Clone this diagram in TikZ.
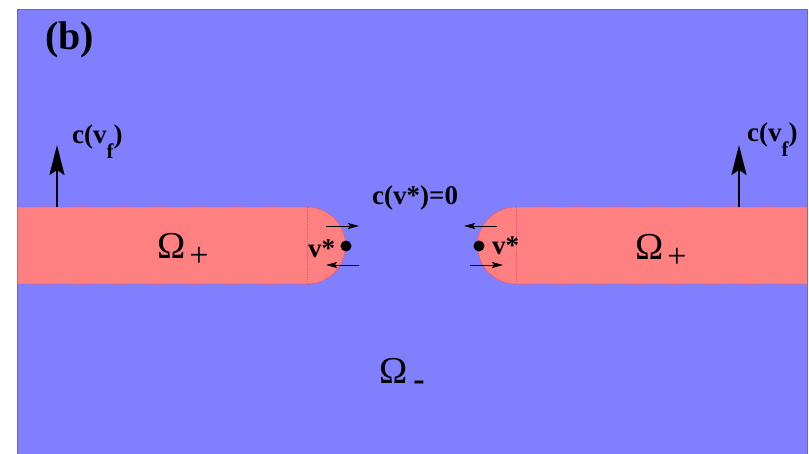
\documentclass[tikz,border=0pt]{standalone}
\usepackage{fontspec}
\setmainfont{Liberation Serif}
\usetikzlibrary{arrows.meta}
\definecolor{bgblue}{RGB}{128,128,255}
\definecolor{bgedge}{RGB}{100,100,235}
\definecolor{pinkfill}{RGB}{255,128,128}
\definecolor{pinkedge}{RGB}{235,80,100}
\begin{document}
\begin{tikzpicture}[x=1pt,y=-1pt,
  lbl/.style={inner sep=0pt, anchor=base west, font=\bfseries\fontsize{27}{30}\selectfont},
  omg/.style={inner sep=0pt, anchor=base west, font=\fontsize{38}{40}\selectfont},
  bigarrow/.style={line width=2.5pt, -{Stealth[length=30pt,width=15pt,inset=5pt]}},
  smallarrow/.style={line width=0.9pt, -{Stealth[length=11pt,width=6pt,inset=2pt]}},
  outline/.style={draw=pinkedge, densely dotted, line width=0.9pt},
  dot/.style={circle, fill=black, inner sep=0pt, minimum size=11pt}]
\fill[white] (0,0) rectangle (809,453);
\useasboundingbox (0,0) rectangle (809,453);
% background region
\filldraw[fill=bgblue, draw=bgedge, line width=1pt] (17.5,9.5) rectangle (807,460);
% left strip
\fill[pinkfill] (17.5,207) -- (307,207) arc[start angle=90, end angle=-90, radius=38.5pt] -- (17.5,284) -- cycle;
\draw[outline] (17.5,207) -- (307,207) arc[start angle=90, end angle=-90, radius=38.5pt] -- (17.5,284);
\draw[outline] (307,207) -- (307,284);
% right strip
\fill[pinkfill] (807,207) -- (516,207) arc[start angle=90, end angle=270, radius=38.5pt] -- (807,284) -- cycle;
\draw[outline] (807,207) -- (516,207) arc[start angle=90, end angle=270, radius=38.5pt] -- (807,284);
\draw[outline] (516,207) -- (516,284);
% big arrows
\coordinate (lbase) at (57,207);
\coordinate (ltip) at (57,145);
\draw[bigarrow] (lbase) -- (ltip);
\coordinate (rbase) at (739,207);
\coordinate (rtip) at (739,145);
\draw[bigarrow] (rbase) -- (rtip);
% labels
\node[font=\bfseries\fontsize{40}{42}\selectfont, inner sep=0pt, anchor=base west] (blabel) at (45,49) {(b)};
\node[lbl] (lcvf) at (72,143) {c(v\raisebox{-15pt}{\fontsize{21}{21}\selectfont f})};
\node[lbl] (rcvf) at (747,141) {c(v\raisebox{-15pt}{\fontsize{21}{21}\selectfont f})};
\node[lbl] (czero) at (372,204) {c(v*)=0};
\node[lbl] (lvs) at (308,257) {v*};
\node[lbl] (rvs) at (492,254) {v*};
\node[omg] (lomega) at (157,258) {Ω\hspace{4pt}\raisebox{-8pt}{\fontsize{34}{34}\selectfont +}};
\node[omg] (romega) at (635,259) {Ω\hspace{4pt}\raisebox{-8pt}{\fontsize{34}{34}\selectfont +}};
\node[omg] (momega) at (379,383) {Ω\hspace{6pt}\raisebox{-7pt}{\bfseries\fontsize{34}{34}\selectfont -}};
% fixed points
\node[dot] (ldot) at (346,246) {};
\node[dot] (rdot) at (479,246) {};
% small arrows
\coordinate (la1) at (326,226); \coordinate (la2) at (359,226);
\coordinate (lb1) at (359,265); \coordinate (lb2) at (326,265);
\draw[smallarrow] (la1) -- (la2);
\draw[smallarrow] (lb1) -- (lb2);
\coordinate (ra1) at (497,226); \coordinate (ra2) at (464,226);
\coordinate (rb1) at (470,265); \coordinate (rb2) at (503,265);
\draw[smallarrow] (ra1) -- (ra2);
\draw[smallarrow] (rb1) -- (rb2);
\end{tikzpicture}
\end{document}
